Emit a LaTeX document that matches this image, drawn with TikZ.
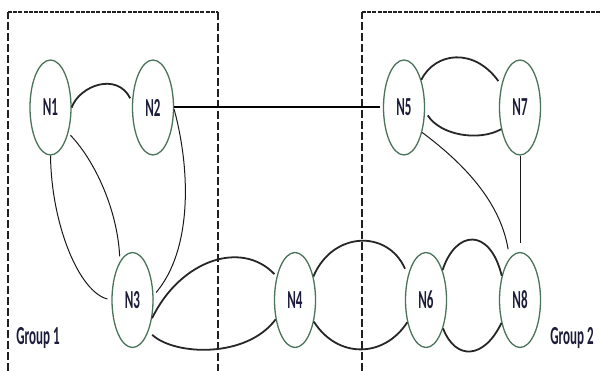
\documentclass[tikz,border=0pt]{standalone}
\usepackage{fontspec}
\usepackage{graphicx}
\setmainfont{Carlito}
\usetikzlibrary{shapes.geometric}
\definecolor{ringc}{HTML}{4A7359}
\definecolor{txtc}{HTML}{1C1C3A}
\definecolor{grpc}{HTML}{202020}
\newcommand{\sq}[1]{\scalebox{0.5}[1]{#1}}
\tikzset{
  nd/.style={ellipse, draw=ringc, line width=1.3pt, minimum width=41pt, minimum height=95pt, inner sep=0pt, text=txtc, font=\fontsize{26}{26}\selectfont\bfseries},
  grplbl/.style={text=txtc, font=\fontsize{26}{26}\selectfont\bfseries, inner sep=0pt},
  thickedge/.style={draw=black!85, line width=1.8pt},
  thinedge/.style={draw=black!90, line width=1pt},
  vdash/.style={draw=grpc, line width=1.1pt, dash pattern=on 8pt off 3pt},
  hdash/.style={draw=grpc, line width=1.1pt, dash pattern=on 4pt off 1.2pt}
}
\begin{document}
\begin{tikzpicture}[x=1pt,y=-1pt]
\useasboundingbox (0,0) rectangle (601,371);
% group frames
\coordinate (g1bl) at (8,371);
\coordinate (g1tl) at (8,12);
\coordinate (g1tr) at (218,12);
\coordinate (g1br) at (218,371);
\coordinate (g2bl) at (362,371);
\coordinate (g2tl) at (362,12);
\coordinate (g2tr) at (601,12);
\draw[vdash] (g1bl) -- (g1tl);
\draw[hdash] (g1tl) -- (g1tr);
\draw[vdash] (g1tr) -- (g1br);
\draw[vdash] (g2bl) -- (g2tl);
\draw[hdash] (g2tl) -- (g2tr);
% nodes
\node[nd] (N1) at (50.5,107.5) {\sq{N1}};
\node[nd] (N2) at (153,107.5) {\sq{N2}};
\node[nd] (N5) at (404,107.5) {\sq{N5}};
\node[nd] (N7) at (520,107.5) {\sq{N7}};
\node[nd] (N3) at (132.5,300) {\sq{N3}};
\node[nd] (N4) at (295,300) {\sq{N4}};
\node[nd] (N6) at (426,300) {\sq{N6}};
\node[nd] (N8) at (520,300) {\sq{N8}};
\node[grplbl] (G1) at (38,338) {\sq{Group 1}};
\node[grplbl] (G2) at (572,338) {\sq{Group 2}};
% edges
\draw[thickedge, shorten >=4pt] (N1.east) .. controls +(8,-22) and +(-15,-30) .. (N2.165);
\draw[thickedge, draw=black, line width=2pt, shorten >=3pt] (N2.east) -- (N5.west);
\draw[thinedge, shorten >=4pt] (N1.south) .. controls +(1,70) and +(-32,-8) .. (N3.west);
\draw[thinedge, shorten <=3pt, shorten >=5pt] (N1.-55) .. controls +(26.6,28) and +(-2.6,-51.8) .. (N3.108);
\draw[thinedge, shorten >=4pt] (N2.-5) .. controls +(16.6,61) and +(38.6,-45.7) .. (N3.12);
\draw[thickedge, shorten >=3pt] (N3.-43) .. controls +(28,-58) and +(-35,-37) .. (N4.128);
\draw[thickedge, shorten <=5pt] (N3.-63) .. controls +(26.3,24.2) and +(-29.1,39.1) .. (N4.225);
\draw[thickedge, shorten >=7pt] (N4.52) .. controls +(19,-45) and +(-20.6,-46) .. (N6.126);
\draw[thickedge] (N4.-49) .. controls +(23.6,37) and +(-23.5,36) .. (N6.230);
\draw[thickedge] (N6.61) .. controls +(13,-40) and +(-12,-49) .. (N8.127);
\draw[thickedge] (N6.-59) .. controls +(12.6,32.7) and +(-17,36) .. (N8.231);
\draw[thickedge, shorten >=5pt] (N5.58) .. controls +(14,-28) and +(-27,-37.7) .. (N7.130);
\draw[thickedge, shorten <=5pt] (N5.-10) .. controls +(15.6,24.4) and +(-22,12.3) .. (N7.229);
\draw[thinedge, shorten >=9pt] (N5.-54) .. controls +(38.4,28.7) and +(-9.6,-58.5) .. (N8.104);
\draw[thinedge, shorten >=9pt] (N7.south) -- (N8.north);
\end{tikzpicture}
\end{document}
